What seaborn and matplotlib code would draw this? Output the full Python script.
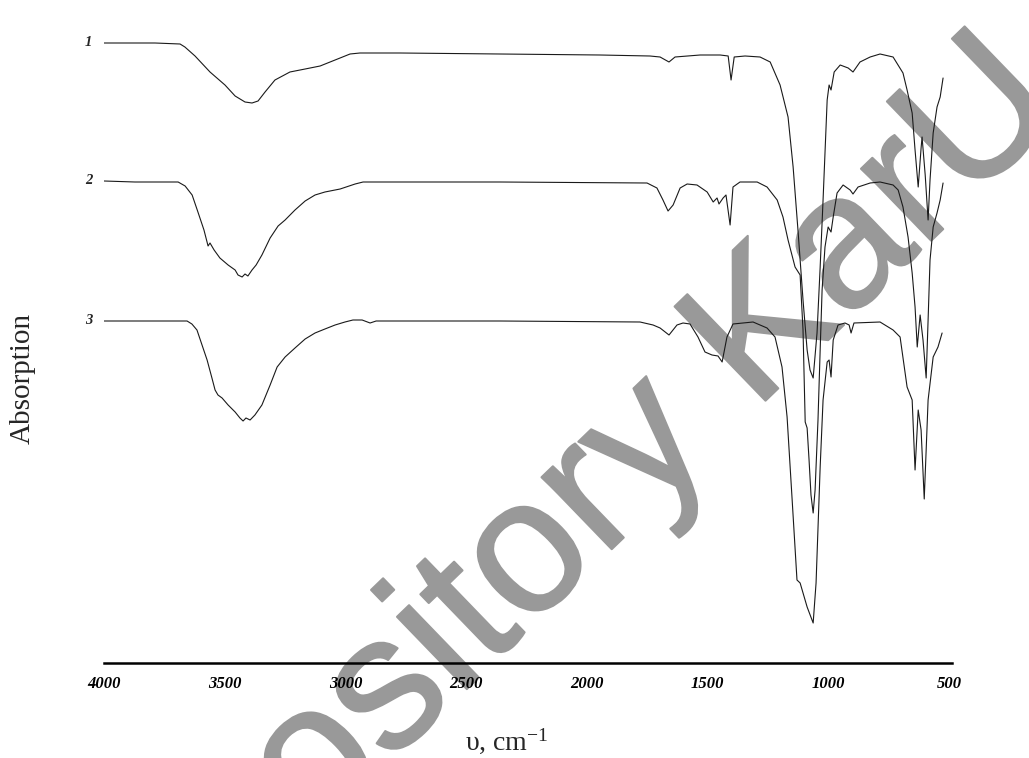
import pandas as pd
import matplotlib.pyplot as plt
import matplotlib.patheffects as pe
import seaborn as sns

# --- CONFIGURATION ---
sns.set_style('white')
plt.rcParams['font.family'] = ['Liberation Serif', 'DejaVu Serif']
plt.rcParams['mathtext.fontset'] = 'stix'

# --- DATA (IR spectra, stacked, arbitrary absorption units) ---
wn_1 = [4000, 3789, 3685, 3665, 3623, 3561, 3499, 3457, 3416, 3387, 3362, 3333, 3292, 3230,
        3167, 3105, 3043, 2981, 2940, 2774, 2360, 1946, 1739, 1697, 1660, 1635, 1531, 1448,
        1415, 1403, 1390, 1345, 1283, 1241, 1200, 1167, 1146, 1125, 1105, 1088, 1076, 1063,
        1047, 1034, 1022, 1005, 997, 989, 976, 951, 918, 898, 869, 827, 786, 732, 691, 674,
        653, 641, 628, 616, 612, 599, 587, 579, 566, 550, 537, 525]
abs_1 = [6.20, 6.20, 6.19, 6.16, 6.07, 5.91, 5.78, 5.67, 5.61, 5.60, 5.62, 5.71, 5.83, 5.91,
         5.94, 5.97, 6.03, 6.09, 6.10, 6.10, 6.09, 6.08, 6.07, 6.06, 6.01, 6.06, 6.08, 6.08,
         6.07, 5.83, 6.06, 6.07, 6.06, 6.01, 5.78, 5.46, 4.96, 4.30, 3.63, 3.13, 2.93, 2.85,
         3.30, 3.96, 4.63, 5.63, 5.78, 5.73, 5.91, 5.98, 5.95, 5.91, 6.01, 6.06, 6.09, 6.06,
         5.90, 5.73, 5.50, 5.13, 4.76, 5.15, 5.26, 4.88, 4.43, 4.83, 5.30, 5.56, 5.66, 5.85]

wn_2 = [4000, 3872, 3693, 3664, 3635, 3611, 3586, 3569, 3561, 3544, 3520, 3486, 3457, 3445,
        3428, 3416, 3404, 3387, 3370, 3346, 3312, 3279, 3250, 3209, 3167, 3126, 3085, 3022,
        2960, 2927, 2360, 1751, 1710, 1685, 1664, 1643, 1614, 1585, 1544, 1502, 1477, 1461,
        1453, 1436, 1424, 1407, 1395, 1366, 1295, 1254, 1212, 1188, 1167, 1138, 1117, 1105,
        1096, 1088, 1080, 1072, 1063, 1055, 1043, 1034, 1026, 1014, 1001, 989, 980, 964, 939,
        910, 898, 877, 827, 786, 732, 711, 691, 670, 653, 641, 632, 620, 608, 595, 587, 579,
        566, 550, 537, 525]
abs_2 = [4.82, 4.81, 4.81, 4.77, 4.68, 4.51, 4.33, 4.17, 4.20, 4.13, 4.05, 3.98, 3.93, 3.88,
         3.86, 3.89, 3.87, 3.93, 3.98, 4.08, 4.25, 4.37, 4.43, 4.53, 4.62, 4.68, 4.71, 4.74,
         4.79, 4.81, 4.81, 4.80, 4.75, 4.63, 4.52, 4.58, 4.75, 4.79, 4.78, 4.71, 4.61, 4.65,
         4.59, 4.65, 4.68, 4.38, 4.76, 4.81, 4.81, 4.76, 4.63, 4.46, 4.23, 3.96, 3.88, 3.33,
         2.41, 2.35, 2.03, 1.68, 1.50, 1.73, 2.43, 3.13, 3.73, 4.16, 4.36, 4.31, 4.46, 4.70,
         4.78, 4.73, 4.69, 4.76, 4.80, 4.81, 4.78, 4.73, 4.56, 4.26, 3.90, 3.56, 3.16, 3.48,
         3.23, 2.85, 3.43, 4.03, 4.36, 4.50, 4.63, 4.80]

wn_3 = [4000, 3809, 3656, 3636, 3615, 3594, 3573, 3553, 3540, 3528, 3511, 3486, 3457, 3437,
        3424, 3412, 3395, 3375, 3346, 3312, 3283, 3250, 3209, 3167, 3126, 3085, 3043, 3002,
        2969, 2931, 2898, 2873, 2360, 1780, 1726, 1697, 1660, 1627, 1602, 1573, 1540, 1511,
        1482, 1457, 1440, 1420, 1395, 1312, 1254, 1221, 1192, 1171, 1150, 1130, 1117, 1088,
        1063, 1051, 1034, 1022, 1005, 997, 989, 980, 960, 931, 914, 906, 894, 786, 732, 703,
        674, 653, 641, 628, 616, 603, 595, 587, 566, 546, 529]
abs_3 = [3.42, 3.42, 3.42, 3.39, 3.33, 3.18, 3.03, 2.85, 2.73, 2.68, 2.65, 2.58, 2.51, 2.45,
         2.42, 2.45, 2.43, 2.48, 2.58, 2.78, 2.96, 3.06, 3.15, 3.24, 3.30, 3.34, 3.38, 3.41,
         3.43, 3.43, 3.40, 3.42, 3.42, 3.41, 3.38, 3.35, 3.28, 3.38, 3.40, 3.39, 3.26, 3.11,
         3.08, 3.07, 3.01, 3.26, 3.39, 3.41, 3.35, 3.26, 2.96, 2.46, 1.63, 0.83, 0.80, 0.56,
         0.40, 0.80, 1.96, 2.63, 3.01, 3.03, 2.86, 3.23, 3.38, 3.40, 3.38, 3.30, 3.40, 3.41,
         3.33, 3.26, 2.76, 2.63, 1.93, 2.53, 2.33, 1.64, 2.13, 2.63, 3.06, 3.16, 3.30]

sample_names = ['1', '2', '3']
x_ticks = [4000, 3500, 3000, 2500, 2000, 1500, 1000, 500]

spectra = [(wn_1, abs_1), (wn_2, abs_2), (wn_3, abs_3)]
df = pd.concat([pd.DataFrame({'wavenumber': w, 'absorption': a, 'sample': s})
                for (w, a), s in zip(spectra, sample_names)], ignore_index=True)

# --- PLOT ---
fig = plt.figure(figsize=(10.29, 7.58), dpi=100)
ax = fig.add_axes([104 / 1029, 95 / 758, 848 / 1029, 643 / 758])
ax.patch.set_visible(False)

for s in sample_names:
    sub = df[df['sample'] == s]
    sns.lineplot(data=sub, x='wavenumber', y='absorption', sort=False, estimator=None,
                 color='#1a1a1a', linewidth=0.8, ax=ax)
    ax.annotate(s, xy=(sub['wavenumber'].iloc[0], sub['absorption'].iloc[0]),
                xytext=(-11, 0), textcoords='offset points', ha='center', va='center',
                fontsize=10.5, fontweight='bold', fontstyle='italic', annotation_clip=False)

ax.set_xlim(4000, 488)
ax.set_ylim(0, 6.43)
ax.set_xticks(x_ticks)
ax.set_xticklabels([str(t) for t in x_ticks], fontsize=12, fontweight='bold', fontstyle='italic')
ax.set_yticks([])
for side in ['top', 'right', 'left']:
    ax.spines[side].set_visible(False)
ax.spines['bottom'].set_linewidth(1.8)
ax.spines['bottom'].set_color('black')
ax.tick_params(axis='x', direction='out', length=4, width=1.4, pad=5, colors='black')

ax.set_xlabel('υ, cm$^{\\mathregular{-1}}$', fontsize=20)
ax.xaxis.set_label_coords(0.475, -0.100)
ax.set_ylabel('Absorption', fontsize=21)
ax.yaxis.set_label_coords(-0.080, 0.443)

# watermark behind the spectra
ax.text(530 / 1029, 1 - 560 / 758, 'Repository KarU', transform=fig.transFigure,
        rotation=44, rotation_mode='anchor', ha='center', va='center', fontsize=137,
        color='#999999', family='Liberation Sans', zorder=0.5,
        path_effects=[pe.withStroke(linewidth=1.5, foreground='#999999')])

fig.savefig('out.png', dpi=100)
